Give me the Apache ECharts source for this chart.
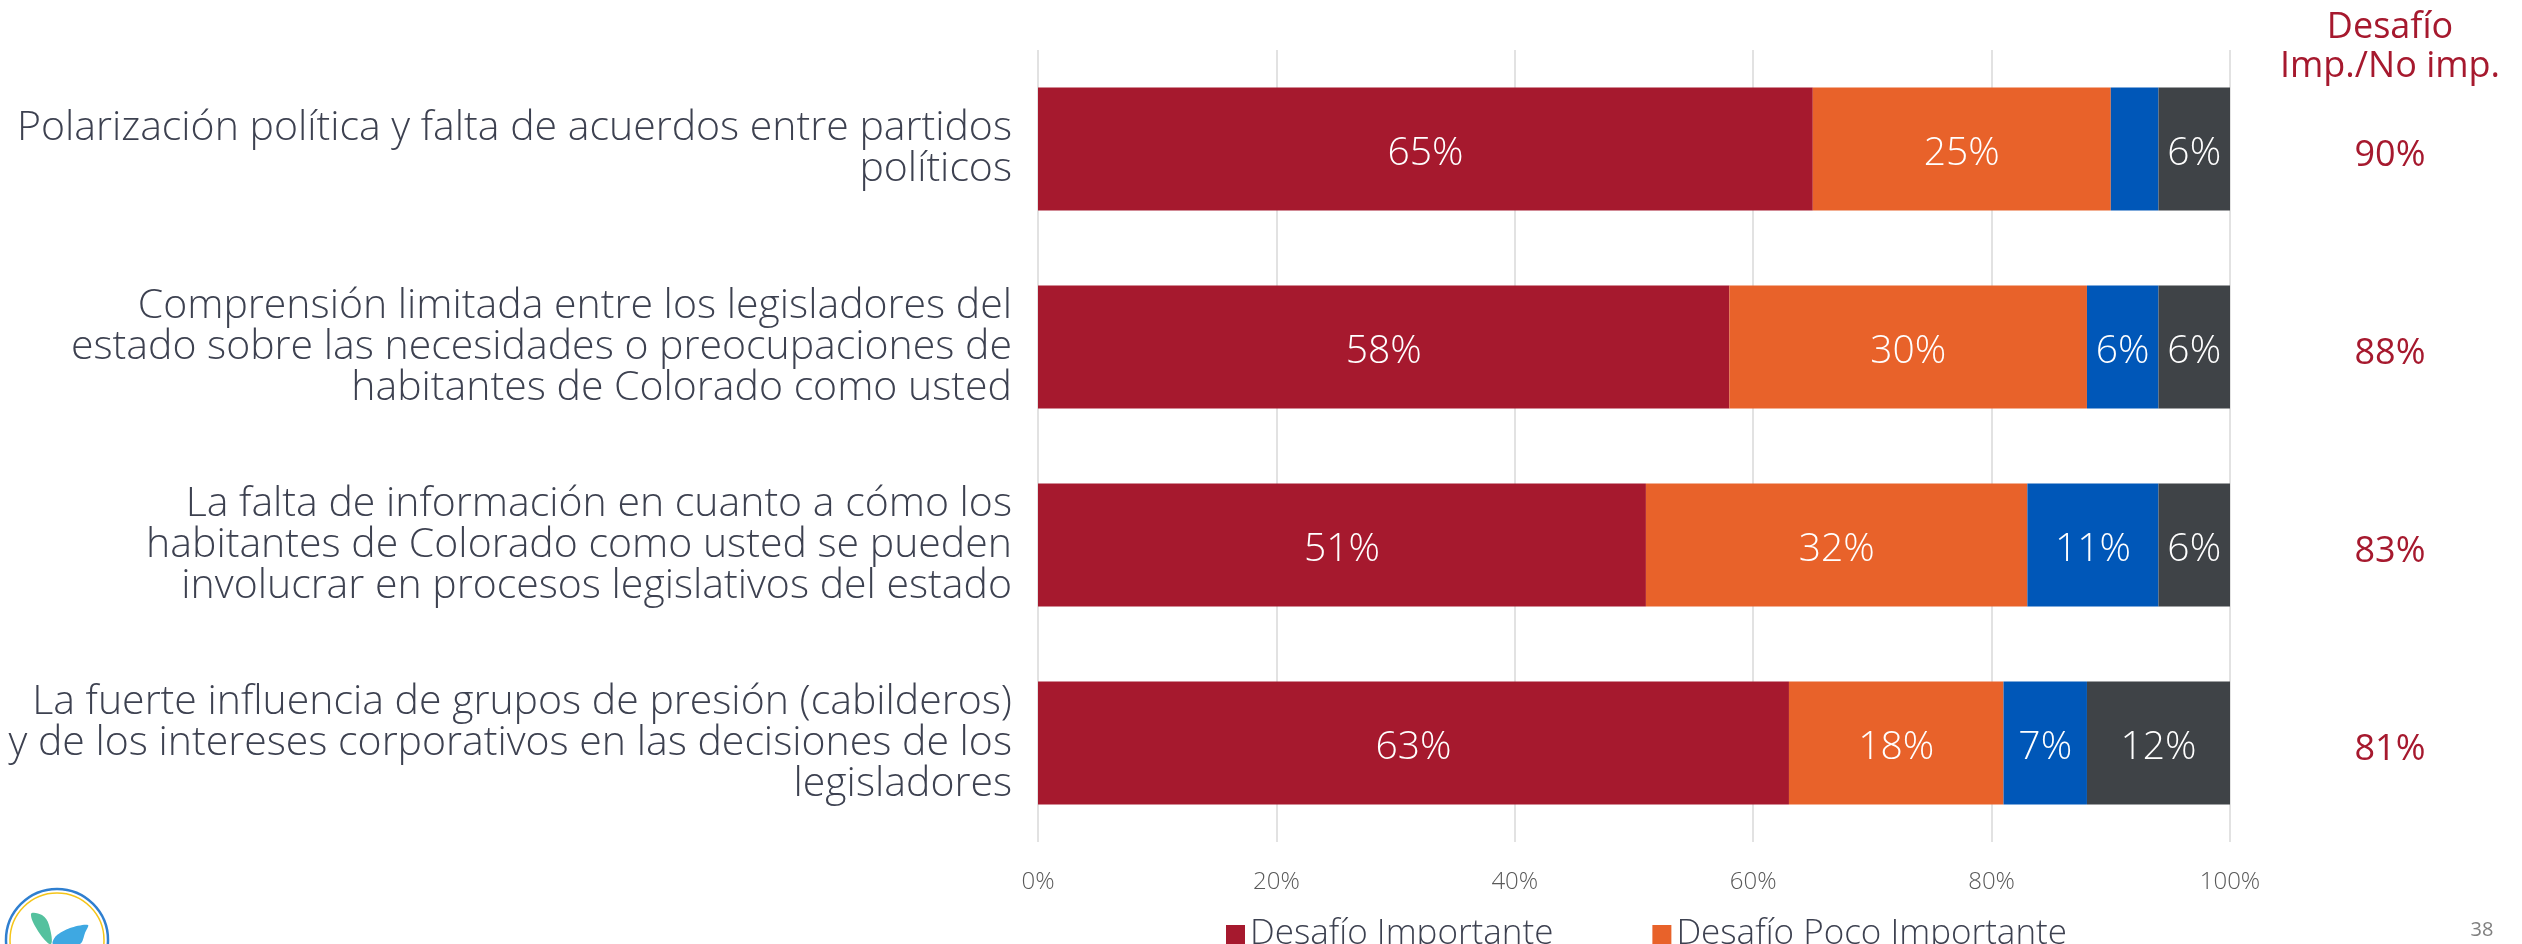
<!DOCTYPE html>
<html>
<head>
    <meta charset="utf-8">
    <title>Desafíos legislativos</title>
    <script src="https://cdn.jsdelivr.net/npm/echarts@6/dist/echarts.min.js"></script>
    <style>
        html, body { margin: 0; padding: 0; background: #fff; }
    </style>
</head>
<body>
<div id="main" style="width: 2522px;height:944px;"></div>
<script type="text/javascript">
    // categorias (de arriba hacia abajo)
    var categorias = [
        'Polarización política y falta de acuerdos entre partidos\npolíticos',
        'Comprensión limitada entre los legisladores del\nestado sobre las necesidades o preocupaciones de\nhabitantes de Colorado como usted',
        'La falta de información en cuanto a cómo los\nhabitantes de Colorado como usted se pueden\ninvolucrar en procesos legislativos del estado',
        'La fuerte influencia de grupos de presión (cabilderos)\ny de los intereses corporativos en las decisiones de los\nlegisladores'
    ];
    var nombres = ['Desafío Importante', 'Desafío Poco Importante', 'No es un desafío', 'No sabe'];
    var importante = [65, 58, 51, 63];
    var pocoImportante = [25, 30, 32, 18];
    var noDesafio = [4, 6, 11, 7];
    var noSabe = [6, 6, 6, 12];
    var ticks = ['0%', '20%', '40%', '60%', '80%', '100%'];

    var colores = ['#a6192e', '#e8622a', '#0057b8', '#3f4347'];
    var rojo = '#a6192e';
    var gris = '#3d4150';

    // columna derecha: importante + poco importante
    var totales = importante.map(function (v, i) { return (v + pocoImportante[i]) + '%'; });

    var myChart = echarts.init(document.getElementById('main'));

    function serie(nombre, datos, color) {
        return {
            name: nombre,
            type: 'bar',
            stack: 'total',
            barWidth: 123,
            data: datos,
            itemStyle: { color: color },
            label: {
                show: true,
                position: 'inside',
                offset: [0, 5],
                color: '#fff',
                fontFamily: 'Open Sans',
                fontWeight: 300,
                fontSize: 39,
                formatter: function (p) { return p.value < 5 ? '' : p.value + '%'; }
            }
        };
    }

    myChart.setOption({
        animation: false,
        grid: { left: 1038, right: 292, top: 50, bottom: 102, containLabel: false },
        legend: {
            data: [nombres[0], nombres[1]],
            left: 1221,
            top: 912,
            icon: 'rect',
            itemWidth: 19,
            itemHeight: 19,
            itemGap: 99,
            textStyle: { fontFamily: 'Open Sans', fontWeight: 300, fontSize: 35, color: gris }
        },
        xAxis: {
            type: 'value',
            min: 0,
            max: 100,
            interval: 20,
            axisLine: { show: false },
            axisTick: { show: false },
            splitLine: { lineStyle: { color: '#d9d9d9', width: 1.5 } },
            axisLabel: {
                margin: 28,
                fontFamily: 'Open Sans',
                fontWeight: 300,
                fontSize: 24,
                color: '#595959',
                formatter: function (v) { return ticks[v / 20]; }
            }
        },
        yAxis: [{
            type: 'category',
            data: categorias,
            inverse: true,
            axisLine: { show: false },
            axisTick: { show: false },
            axisLabel: {
                margin: 26,
                fontFamily: 'Open Sans',
                fontWeight: 300,
                fontSize: 41,
                lineHeight: 41,
                color: gris,
                align: 'right'
            }
        }, {
            type: 'category',
            data: totales,
            inverse: true,
            position: 'right',
            axisLine: { show: false },
            axisTick: { show: false },
            axisLabel: {
                margin: 160,
                align: 'center',
                formatter: '{t|{value}}',
                rich: {
                    t: {
                        padding: [13, 0, 0, 0],
                        fontFamily: 'Open Sans',
                        fontSize: 36,
                        color: rojo
                    }
                }
            }
        }],
        graphic: [
            { type: 'text', x: 2390, y: 28, style: { text: 'Desafío', fontFamily: 'Open Sans', fontSize: 36, fill: rojo, align: 'center', verticalAlign: 'middle' } },
            { type: 'text', x: 2390, y: 67, style: { text: 'Imp./No imp.', fontFamily: 'Open Sans', fontSize: 36, fill: rojo, align: 'center', verticalAlign: 'middle' } },
            { type: 'text', x: 2482, y: 930, style: { text: '38', fontFamily: 'Open Sans', fontSize: 20, fill: '#7f7f7f', align: 'center', verticalAlign: 'middle' } },
            // logo
            { type: 'circle', shape: { cx: 57, cy: 940, r: 51 }, style: { fill: '#fff', stroke: '#2f7fd0', lineWidth: 2.5 } },
            { type: 'circle', shape: { cx: 57, cy: 940, r: 47 }, style: { fill: 'none', stroke: '#f5c518', lineWidth: 1.5 } },
            { type: 'polygon', shape: { points: [[31, 914], [42, 915], [49, 925], [51, 944], [40, 934]], smooth: 0.4 }, style: { fill: '#54c19e' } },
            { type: 'polygon', shape: { points: [[88, 925], [70, 928], [56, 936], [53, 944], [80, 944], [85, 933]], smooth: 0.3 }, style: { fill: '#3ea8e2' } }
        ],
        series: [
            serie(nombres[0], importante, colores[0]),
            serie(nombres[1], pocoImportante, colores[1]),
            serie(nombres[2], noDesafio, colores[2]),
            serie(nombres[3], noSabe, colores[3])
        ]
    });
</script>
</body>
</html>
